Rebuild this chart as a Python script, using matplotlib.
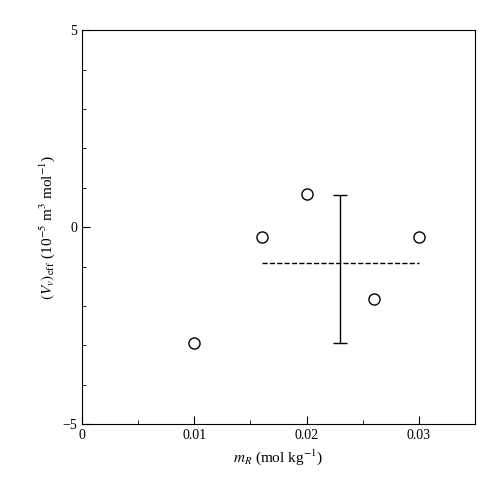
import matplotlib
matplotlib.use("Agg")
import matplotlib.pyplot as plt
from matplotlib.ticker import MultipleLocator

plt.rcParams['font.family'] = ['Liberation Serif']
plt.rcParams['mathtext.fontset'] = 'stix'

m_R = [0.010, 0.016, 0.020, 0.026, 0.030]
V_eff = [-2.95, -0.25, 0.85, -1.83, -0.25]
mean_val = -0.90
mean_x = [0.016, 0.030]
err_x = 0.023
err_lo, err_hi = -2.94, 0.82

fig = plt.figure(figsize=(5.0, 4.88), dpi=100)
ax = fig.add_axes([0.164, 0.131, 0.786, 0.807])
ax.plot(m_R, V_eff, 'o', mfc='white', mec='black', ms=8, mew=1.0)
ax.plot(mean_x, [mean_val, mean_val], '--', color='black', lw=1.0)
ax.errorbar([err_x], [(err_lo + err_hi) / 2], yerr=[[(err_hi - err_lo) / 2], [(err_hi - err_lo) / 2]],
            fmt='none', ecolor='black', elinewidth=1.0, capsize=5)
ax.set_xlim(0, 0.035)
ax.set_ylim(-5, 5)
ax.set_xticks([0, 0.01, 0.02, 0.03])
ax.set_xticklabels(['0', '0.01', '0.02', '0.03'])
ax.set_yticks([-5, 0, 5])
ax.set_yticklabels(['\u22125', '0', '5'])
ax.yaxis.set_minor_locator(MultipleLocator(1))
ax.xaxis.set_minor_locator(MultipleLocator(0.005))
ax.tick_params(which='both', direction='in', labelsize=10)
ax.tick_params(which='major', length=6)
ax.tick_params(which='minor', length=3)
ax.set_xlabel(r'$m_R$ (mol kg$^{-1}$)', fontsize=11)
ax.set_ylabel(r'$(V_v)_{\rm eff}$ (10$^{-5}$ m$^3$ mol$^{-1}$)', fontsize=11)
fig.savefig('out.png', dpi=100)
